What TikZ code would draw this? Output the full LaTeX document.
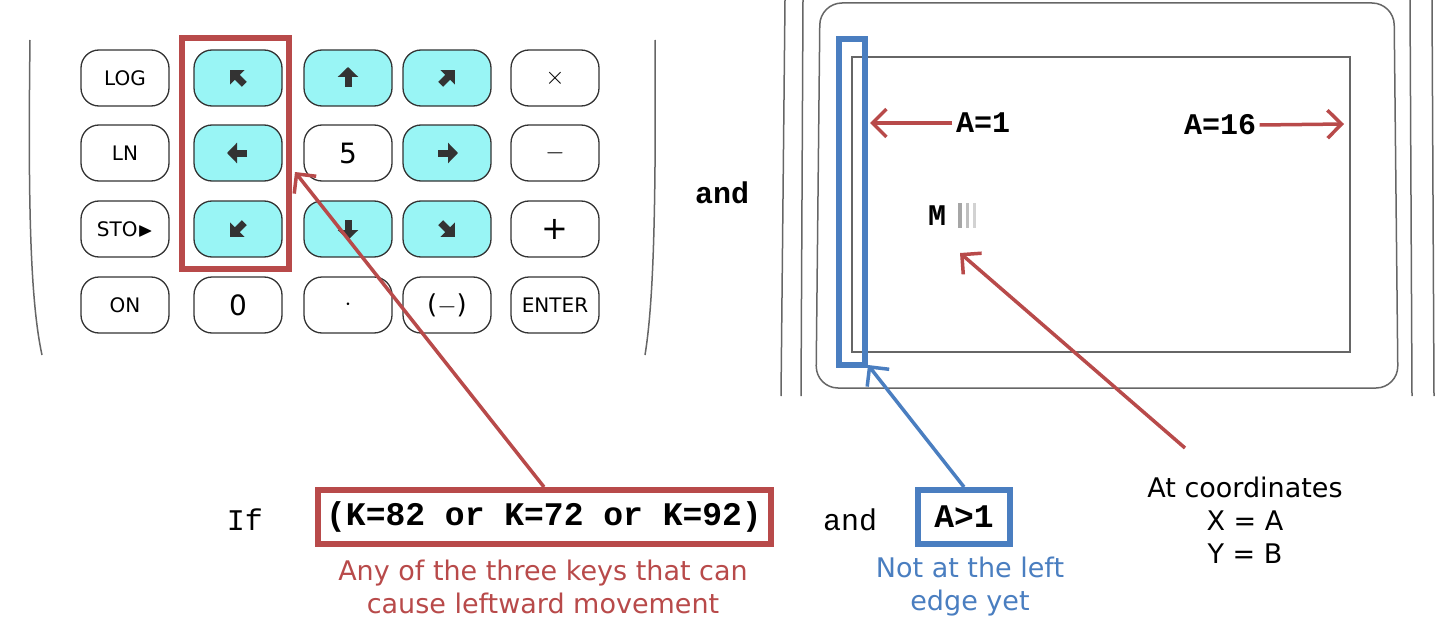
\documentclass[tikz,border=0pt]{standalone}
\usepackage{amssymb}
\usepackage{fontspec}
\setmainfont{DejaVu Sans}
\newfontfamily\mono{Liberation Mono}
\usetikzlibrary{arrows.meta}
\definecolor{rd}{HTML}{B84A4A}
\definecolor{bl}{HTML}{4A7EC0}
\definecolor{cy}{HTML}{99F5F5}
\definecolor{kg}{HTML}{333333}
\begin{document}
\begin{tikzpicture}[x=1pt,y=-1pt,
 key/.style={draw=kg,line width=1.3pt,rounded corners=18pt,minimum width=88pt,minimum height=56pt,font=\fontsize{20}{20}\selectfont,inner sep=0pt},
 ckey/.style={key,fill=cy},
 karr/.style={line width=7pt,kg,-{Triangle[length=10pt,width=20pt]}},
 rarr/.style={rd,line width=3.5pt,-{Straight Barb[length=14pt,width=28pt]}},
 barr/.style={bl,line width=3.5pt,-{Straight Barb[length=14pt,width=28pt]}},
 frame/.style={draw=gray!80!black,line width=1.5pt},
 sans/.style={font=\fontsize{27}{33}\selectfont,align=center}]
\useasboundingbox (0,0) rectangle (1446,634);
% keypad outline
\draw[frame] (30,40) .. controls (28,200) and (30,300) .. (42,355);
\draw[frame] (655,40) .. controls (656,200) and (654,300) .. (645,355);
% keys
\node[key] (log) at (125,78) {LOG};
\node[ckey] (ul) at (238,78) {};
\node[ckey] (up) at (348,78) {};
\node[ckey] (ur) at (447,78) {};
\node[key,font=\fontsize{30}{30}\selectfont] (mul) at (555,78) {$\times$};
\node[key] (ln) at (125,153) {LN};
\node[ckey] (lf) at (238,153) {};
\node[key,font=\fontsize{28}{28}\selectfont] (five) at (348,153) {5};
\node[key,font=\fontsize{30}{30}\selectfont] (minus) at (555,153) {$-$};
\node[ckey] (rt) at (447,153) {};
\node[key] (sto) at (125,229) {STO$\blacktriangleright$};
\node[ckey] (dl) at (238,229) {};
\node[ckey] (dn) at (348,229) {};
\node[ckey] (dr) at (447,229) {};
\node[key,font=\fontsize{32}{32}\selectfont] (plus) at (555,229) {+};
\node[key] (on) at (125,305) {ON};
\node[key,font=\fontsize{28}{28}\selectfont] (zero) at (238,305) {0};
\node[key,font=\fontsize{30}{30}\selectfont] (dot) at (348,305) {$\cdot$};
\node[key,font=\fontsize{26}{26}\selectfont] (neg) at (447,305) {($-$)};
\node[key] (ent) at (555,305) {ENTER};
\foreach \k/\a in {ul/135,up/90,ur/45,lf/180,rt/0,dl/225,dn/270,dr/315}
  \draw[karr] (\k.center) ++(180-\a:9) -- ++(-\a:20);
\node[draw=rd,line width=6pt,minimum width=107pt,minimum height=230pt,inner sep=0pt] (kbox) at (235.5,153.5) {};
% screen
\draw[frame] (785,0) -- (781,396);
\draw[frame] (803,0) -- (801,396);
\draw[frame] (1410,0) -- (1412,396);
\draw[frame] (1432,0) -- (1434,396);
\draw[frame,rounded corners=22pt] (820,3) -- (1394,3) -- (1398,388) -- (816,388) -- cycle;
\draw[frame] (852,57) rectangle (1350,352);
\node[draw=bl,line width=6pt,minimum width=26pt,minimum height=326pt,inner sep=0pt] (bbox) at (852,202) {};
\node[font=\mono\bfseries\fontsize{30}{30}\selectfont] (a1) at (983,123) {A=1};
\node[font=\mono\bfseries\fontsize{30}{30}\selectfont] (a16) at (1220,125) {A=16};
\coordinate (le) at (870,123);
\coordinate (re) at (1344,124);
\draw[rarr] (a1.west) -- (le);
\draw[rarr] (a16.east) -- (re);
\node[font=\mono\bfseries\fontsize{30}{30}\selectfont,anchor=west,inner sep=0pt] (m) at (928,216) {M};
\fill[gray!70] (958,203) rectangle (962,228);
\fill[gray!50] (966,203) rectangle (969,228);
\fill[gray!35] (973,203) rectangle (976,228);
\node[font=\mono\bfseries\fontsize{30}{30}\selectfont] (and1) at (722,193) {and};
% bottom
\node[font=\mono\fontsize{30}{30}\selectfont] (if) at (245,520) {If};
\node[draw=rd,line width=6pt,font=\mono\bfseries\fontsize{33}{33}\selectfont,minimum width=453pt,minimum height=54pt,inner sep=0pt] (cond) at (544,517) {(K=82 or K=72 or K=92)};
\node[font=\mono\fontsize{30}{30}\selectfont] (and2) at (850,520) {and};
\node[draw=bl,line width=6pt,font=\mono\bfseries\fontsize{33}{33}\selectfont,minimum width=92pt,minimum height=54pt,inner sep=0pt] (agt) at (964,517) {A>1};
\node[sans,text=rd] (t1) at (543,587) {Any of the three keys that can\\cause leftward movement};
\node[sans,text=bl] (t2) at (970,587) {Not at the left\\edge yet};
\node[sans] (t3) at (1245,520) {At coordinates\\X = A\\Y = B};
\coordinate (kt) at (295,172);
\coordinate (mt) at (960,253);
\coordinate (bt) at (868,365);
\coordinate (ms) at (1185,448);
\draw[rarr] (cond.north) -- (kt);
\draw[rarr] (ms) -- (mt);
\draw[barr] (agt.north) -- (bt);
\end{tikzpicture}
\end{document}
